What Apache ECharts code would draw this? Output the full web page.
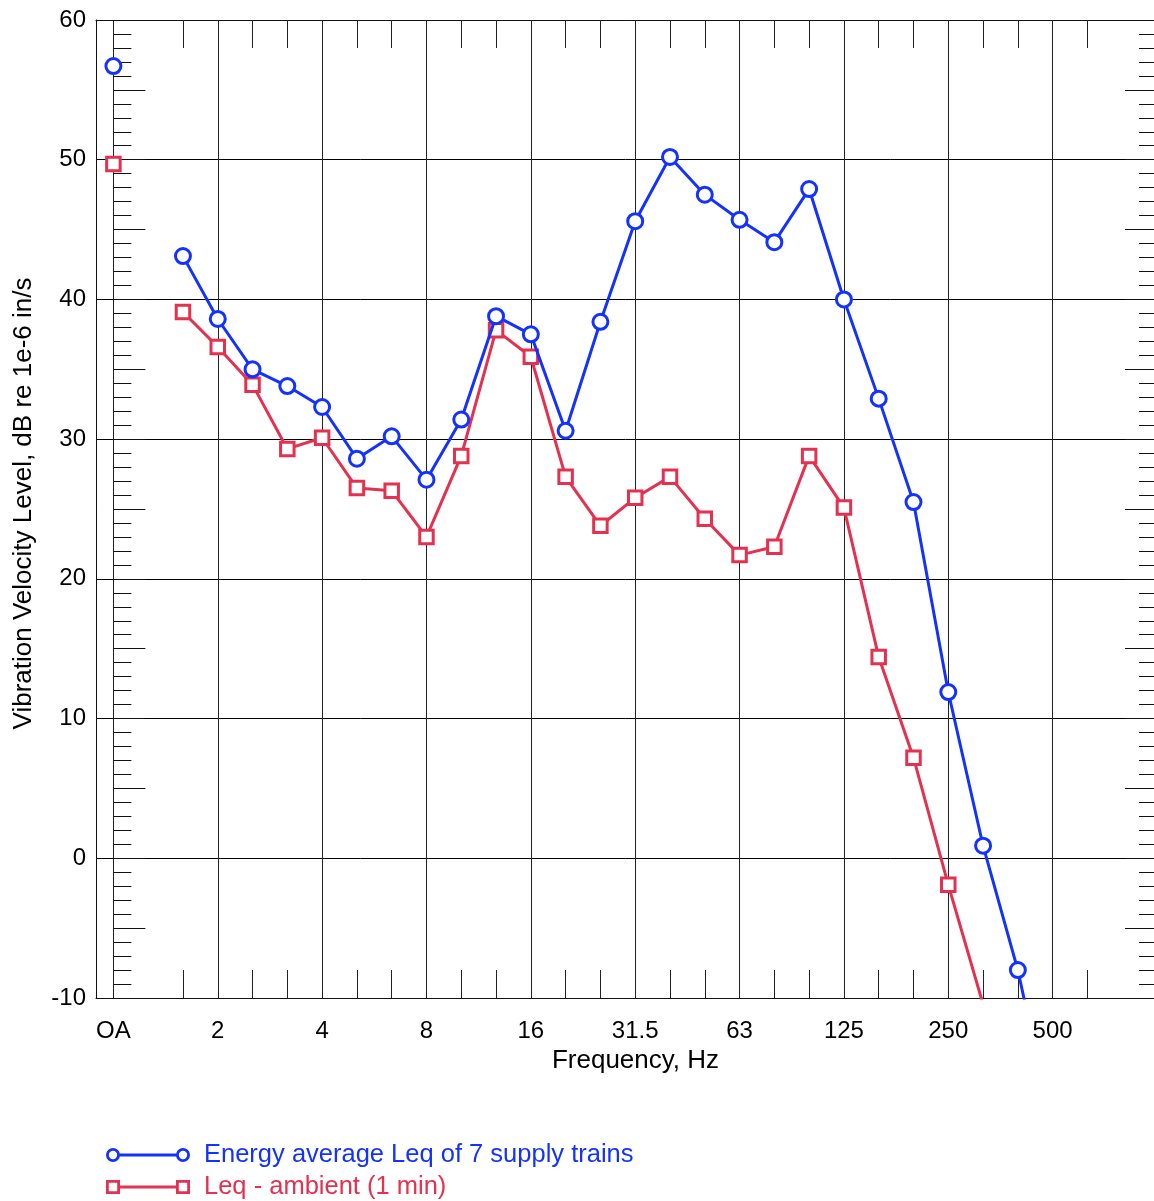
<!DOCTYPE html>
<html>
<head>
<meta charset="utf-8">
<script src="https://cdn.jsdelivr.net/npm/echarts@6/dist/echarts.min.js"></script>
<style>
  html, body { margin: 0; padding: 0; background: #fff; }
  #chart { width: 1154px; height: 1201px; }
</style>
</head>
<body>
<div id="chart"></div>
<script>
// One-third octave band slots along the x axis (OA, empty 1.25 slot, 1.6 ... 1000 Hz)
const bands = ['OA','1.25','1.6','2','2.5','3.15','4','5','6.3','8','10','12.5','16','20','25','31.5','40','50','63','80','100','125','160','200','250','315','400','500','630','800','1000'];
// Labelled bands (with full-height grid lines)
const labelBands = ['OA','2','4','8','16','31.5','63','125','250','500'];
// Bands with short tick marks at top and bottom
const tickBands = ['1.6','2','2.5','3.15','4','5','6.3','8','10','12.5','16','20','25','31.5','40','50','63','80','100','125','160','200','250','315','400','500','630'];

const trainBands = ['OA','1.6','2','2.5','3.15','4','5','6.3','8','10','12.5','16','20','25','31.5','40','50','63','80','100','125','160','200','250','315','400','500'];
const trainValues = [56.7, 43.1, 38.6, 35.0, 33.8, 32.3, 28.6, 30.2, 27.1, 31.4, 38.8, 37.5, 30.6, 38.4, 45.6, 50.2, 47.5, 45.7, 44.1, 47.9, 40.0, 32.9, 25.5, 11.9, 0.9, -8.0, -19.5];

const ambientBands = ['OA','1.6','2','2.5','3.15','4','5','6.3','8','10','12.5','16','20','25','31.5','40','50','63','80','100','125','160','200','250','315'];
const ambientValues = [49.7, 39.1, 36.6, 33.9, 29.3, 30.1, 26.5, 26.3, 23.0, 28.8, 37.8, 35.9, 27.3, 23.8, 25.8, 27.3, 24.3, 21.7, 22.3, 28.8, 25.1, 14.4, 7.2, -1.9, -10.45];

const yTicks = { min: -10, max: 60, major: 10, tick: 5 };

const seriesNames = ['Energy average Leq of 7 supply trains', 'Leq - ambient (1 min)'];
const BLUE = '#1432ff';
const RED = '#e5304f';

function toPairs(bs, vs) {
  const out = [];
  bs.forEach((b, k) => {
    const i = bands.indexOf(b);
    out.push([i, vs[k]]);
    // break line after OA (empty slot)
    if (b === 'OA') out.push([1, null]);
  });
  return out;
}

const GRID_LEFT = 96, GRID_TOP = 20, GRID_W = 1061, GRID_H = 978;
const X_MIN = -0.5, X_MAX = 30;
const oaOffset = GRID_W * (0 - X_MIN) / (X_MAX - X_MIN);

const labelIdx = labelBands.map(b => bands.indexOf(b));
const tickIdx = tickBands.map(b => bands.indexOf(b));

const FONT = '"Liberation Sans", Arial, Helvetica, sans-serif';
const FS = 24;     // tick labels
const FS_T = 26;   // axis titles
const FS_L = 25.5; // legend

const circleIcon = 'path://M0,7 A7,7 0 1,1 14,7 A7,7 0 1,1 0,7 Z M2.8,7 A4.2,4.2 0 1,0 11.2,7 A4.2,4.2 0 1,0 2.8,7 Z ' +
  'M13.5,5.5 H70.5 V8.5 H13.5 Z ' +
  'M70,7 A7,7 0 1,1 84,7 A7,7 0 1,1 70,7 Z M72.8,7 A4.2,4.2 0 1,0 81.2,7 A4.2,4.2 0 1,0 72.8,7 Z';
const squareIcon = 'path://M0,0 H14 V14 H0 Z M2.8,2.8 V11.2 H11.2 V2.8 Z ' +
  'M14,5.5 H70 V8.5 H14 Z ' +
  'M70,0 H84 V14 H70 Z M72.8,2.8 V11.2 H81.2 V2.8 Z';

function legendFor(k, icon, color, top) {
  return {
    orient: 'vertical',
    left: 106,
    top: top,
    padding: 0,
    itemWidth: 84,
    itemHeight: 14,
    itemGap: 0,
    selectedMode: false,
    textStyle: { fontFamily: FONT, fontSize: FS_L, lineHeight: 32, padding: [0, 0, 0, 9], color: color },
    data: [{ name: seriesNames[k], icon: icon, itemStyle: { color: color, borderWidth: 0 }, textStyle: { color: color } }]
  };
}

const chart = echarts.init(document.getElementById('chart'), null, { renderer: 'canvas' });

const lineCol = '#111';
const option = {
  animation: false,
  backgroundColor: '#ffffff',
  textStyle: { fontFamily: FONT },
  grid: { left: GRID_LEFT, top: GRID_TOP, width: GRID_W, height: GRID_H, containLabel: false, outerBoundsMode: 'none' },
  legend: [
    legendFor(0, circleIcon, BLUE, 1139),
    legendFor(1, squareIcon, RED, 1171)
  ],
  xAxis: [
    {
      type: 'value', min: X_MIN, max: X_MAX, position: 'bottom',
      axisLine: { show: true, onZero: false, lineStyle: { color: lineCol, width: 1 } },
      axisTick: { show: false, customValues: labelIdx },
      splitLine: { show: true, customValues: labelIdx, lineStyle: { color: '#222', width: 1 } },
      axisLabel: {
        customValues: labelIdx,
        formatter: v => bands[Math.round(v)],
        fontSize: FS, color: '#000', margin: 21, fontFamily: FONT
      },
      name: 'Frequency, Hz', nameLocation: 'middle', nameGap: 50,
      nameTextStyle: { fontSize: FS_T, color: '#000', fontFamily: FONT, padding: [0, 0, 0, 18] }
    },
    {
      type: 'value', min: X_MIN, max: X_MAX, position: 'top',
      axisLine: { show: true, onZero: false, lineStyle: { color: lineCol, width: 1 } },
      axisTick: { show: true, inside: true, length: 28, customValues: tickIdx, lineStyle: { color: '#222', width: 1 } },
      axisLabel: { show: false },
      splitLine: { show: false }
    },
    {
      type: 'value', min: X_MIN, max: X_MAX, position: 'bottom',
      axisLine: { show: false, onZero: false },
      axisTick: { show: true, inside: true, length: 28, customValues: tickIdx, lineStyle: { color: '#222', width: 1 } },
      axisLabel: { show: false },
      splitLine: { show: false }
    }
  ],
  yAxis: [
    {
      type: 'value', min: yTicks.min, max: yTicks.max, interval: yTicks.major, position: 'left',
      axisLine: { show: true, onZero: false, lineStyle: { color: lineCol, width: 1 } },
      axisTick: { show: false },
      splitLine: { show: true, lineStyle: { color: '#000', width: 1 } },
      axisLabel: { fontSize: FS, color: '#000', margin: 10, fontFamily: FONT },
      name: 'Vibration Velocity Level, dB re 1e-6 in/s', nameLocation: 'middle', nameGap: 59,
      nameTextStyle: { fontSize: FS_T, color: '#000', fontFamily: FONT, padding: [0, 0, 0, 11] }
    },
    {
      type: 'value', min: yTicks.min, max: yTicks.max, interval: yTicks.tick, position: 'left', offset: -oaOffset,
      axisLine: { show: false, onZero: false },
      axisTick: { show: true, inside: true, length: 32, lineStyle: { color: '#111', width: 1 } },
      minorTick: { show: true, splitNumber: 5, length: 18, lineStyle: { color: '#111', width: 1 } },
      axisLabel: { show: false },
      splitLine: { show: false },
      minorSplitLine: { show: false }
    },
    {
      type: 'value', min: yTicks.min, max: yTicks.max, interval: yTicks.tick, position: 'right',
      axisLine: { show: true, onZero: false, lineStyle: { color: lineCol, width: 1 } },
      axisTick: { show: true, inside: true, length: 32, lineStyle: { color: '#111', width: 1 } },
      minorTick: { show: true, splitNumber: 5, length: 18, lineStyle: { color: '#111', width: 1 } },
      axisLabel: { show: false },
      splitLine: { show: false },
      minorSplitLine: { show: false }
    }
  ],
  series: [
    {
      name: seriesNames[1], type: 'line', xAxisIndex: 0, yAxisIndex: 0,
      data: toPairs(ambientBands, ambientValues),
      connectNulls: false, clip: true,
      symbol: 'rect', symbolSize: 13.5, showAllSymbol: true,
      lineStyle: { color: RED, width: 3 },
      itemStyle: { color: '#fff', borderColor: RED, borderWidth: 3 },
      z: 3
    },
    {
      name: seriesNames[0], type: 'line', xAxisIndex: 0, yAxisIndex: 0,
      data: toPairs(trainBands, trainValues),
      connectNulls: false, clip: true,
      symbol: 'circle', symbolSize: 15, showAllSymbol: true,
      lineStyle: { color: BLUE, width: 3 },
      itemStyle: { color: '#fff', borderColor: BLUE, borderWidth: 3 },
      z: 4
    }
  ]
};
chart.setOption(option);
</script>
</body>
</html>
